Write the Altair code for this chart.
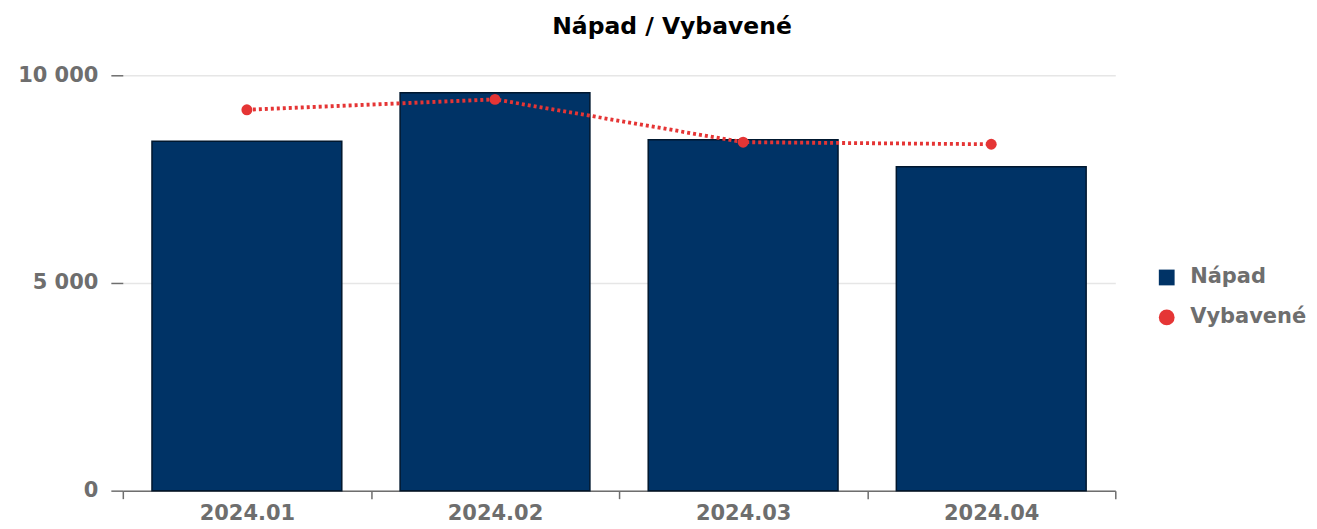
import altair as alt
import pandas as pd

months = ["2024.01", "2024.02", "2024.03", "2024.04"]
napad = [8410, 9580, 8450, 7800]
vybavene = [9170, 9420, 8390, 8340]

rows = []
for m, a, b in zip(months, napad, vybavene):
    rows.append({"month": m, "series": "Nápad", "value": a})
    rows.append({"month": m, "series": "Vybavené", "value": b})
df = pd.DataFrame(rows)

FONT = "DejaVu Sans"
GRAY = "#6e6e6e"
NAVY = "#003366"
RED = "#e53535"

series_domain = ["Nápad", "Vybavené"]
color_scale = alt.Scale(domain=series_domain, range=[NAVY, RED])
shape_scale = alt.Scale(domain=series_domain, range=["square", "circle"])

x_enc = alt.X(
    "month:N",
    title=None,
    sort=months,
    scale=alt.Scale(paddingInner=0, paddingOuter=0),
    axis=alt.Axis(
        labelAngle=0, tickBand="extent", labelFontSize=21, labelFontWeight="bold",
        labelColor=GRAY, labelFont=FONT, tickColor=GRAY, domainColor=GRAY,
        tickSize=8, tickWidth=1.5, domainWidth=1.5, labelPadding=4, grid=False,
    ),
)
y_enc = alt.Y(
    "value:Q",
    title=None,
    scale=alt.Scale(domain=[0, 10000]),
    axis=alt.Axis(
        values=[0, 5000, 10000],
        labelExpr="replace(format(datum.value, ','), /,/g, ' ')",
        labelFontSize=21, labelFontWeight="bold", labelColor=GRAY, labelFont=FONT,
        tickColor=GRAY, tickSize=12, tickWidth=1.5, domain=False,
        gridColor="#e6e6e6", gridWidth=1.5, labelPadding=13,
    ),
)

legend = alt.Legend(
    title=None, labelFontSize=21, labelFontWeight="bold", labelColor=GRAY,
    labelFont=FONT, symbolSize=250, symbolStrokeWidth=0, rowPadding=18,
    labelOffset=13, labelLimit=400, padding=0, orient="none",
    legendX=1035, legendY=192,
)

bars = alt.Chart(df).transform_filter(alt.datum.series == "Nápad").mark_bar(
    stroke="#00172e", strokeWidth=1.5, width={"band": 0.765}
).encode(
    x=x_enc, y=y_enc,
    color=alt.Color("series:N", scale=color_scale, legend=legend),
)

line = alt.Chart(df).transform_filter(alt.datum.series == "Vybavené").mark_line(
    interpolate="linear", strokeDash=[3, 3], strokeWidth=3.8, color=RED
).encode(x=x_enc, y=y_enc)

points = alt.Chart(df).transform_filter(alt.datum.series == "Vybavené").mark_point(
    filled=True, size=120, opacity=1
).encode(
    x=x_enc, y=y_enc,
    color=alt.Color("series:N", scale=color_scale, legend=legend),
    shape=alt.Shape("series:N", scale=shape_scale, legend=legend),
)

chart = alt.layer(bars, line, points).properties(
    width=994, height=416,
    autosize=alt.AutoSizeParams(type="none"),
    padding={"left": 115, "top": 67, "right": 194, "bottom": 33},
    title=alt.TitleParams(
        "Nápad / Vybavené", font=FONT, fontSize=23.5, fontWeight="bold",
        color="black", anchor="middle", frame="group", offset=26, dx=53,
    ),
).configure(font=FONT).configure_view(stroke=None)

chart.save("out.html", embed_options={"renderer": "svg", "actions": False})
